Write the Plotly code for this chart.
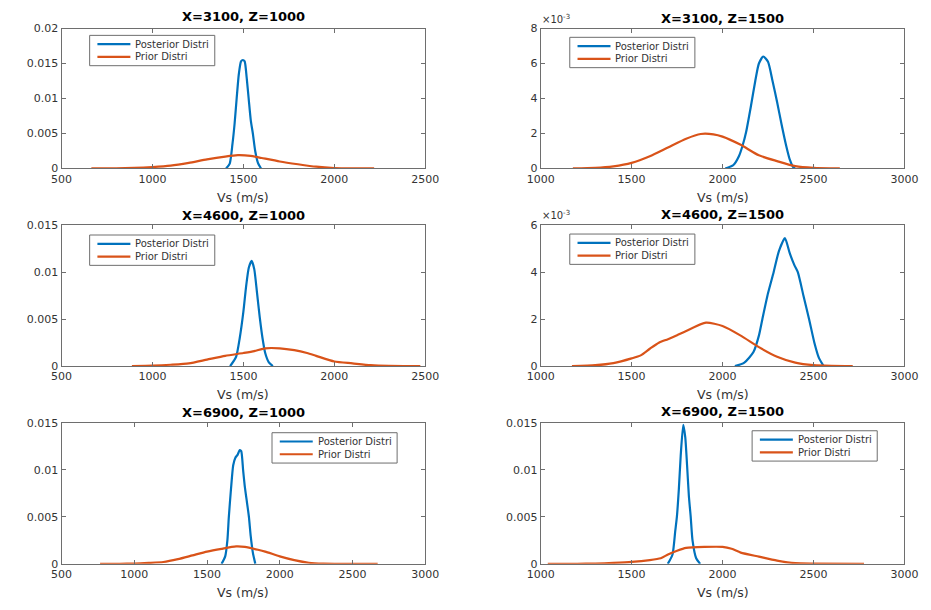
import plotly.graph_objects as go

W, H = 931, 610

# ---------------- data ----------------
titles = ["X=3100, Z=1000", "X=3100, Z=1500",
          "X=4600, Z=1000", "X=4600, Z=1500",
          "X=6900, Z=1000", "X=6900, Z=1500"]

# Panel 1
p1_post_x = [1405, 1425, 1440, 1452, 1463, 1475, 1487, 1497, 1507, 1518, 1529, 1541, 1552, 1565, 1580, 1597]
p1_post_y = [0, 0.0007, 0.0035, 0.0065, 0.010, 0.0135, 0.0153, 0.0155, 0.0153, 0.013, 0.010, 0.0068, 0.005, 0.0025, 0.0008, 0]
p1_prior_x = [664, 800, 900, 1000, 1100, 1200, 1300, 1400, 1470, 1540, 1600, 1700, 1800, 1900, 2000, 2100, 2219]
p1_prior_y = [0, 0.00002, 0.00008, 0.0002, 0.0004, 0.0008, 0.0013, 0.0017, 0.0019, 0.0018, 0.0015, 0.001, 0.0006, 0.00025, 0.00006, 0.00001, 0]

# Panel 2 (values in units of 1e-3)
p2_post_x = [2015, 2060, 2090, 2110, 2130, 2155, 2180, 2200, 2224, 2250, 2275, 2300, 2325, 2350, 2370, 2390, 2400]
p2_post_y = [0, 0.2, 0.7, 1.3, 2.1, 3.5, 5.0, 6.0, 6.4, 6.1, 5.0, 3.8, 2.5, 1.3, 0.5, 0.05, 0]
p2_prior_x = [1177, 1300, 1400, 1500, 1600, 1700, 1800, 1880, 1950, 2000, 2100, 2200, 2300, 2400, 2500, 2645]
p2_prior_y = [0, 0.03, 0.12, 0.32, 0.7, 1.2, 1.7, 1.97, 1.95, 1.82, 1.35, 0.75, 0.42, 0.13, 0.03, 0]

# Panel 3
p3_post_x = [1427, 1460, 1480, 1500, 1515, 1530, 1546, 1560, 1575, 1590, 1605, 1620, 1640, 1662]
p3_post_y = [0, 0.001, 0.003, 0.0058, 0.0085, 0.0105, 0.0112, 0.0103, 0.0078, 0.0052, 0.003, 0.0014, 0.0004, 0]
p3_prior_x = [887, 1000, 1100, 1200, 1300, 1400, 1500, 1560, 1620, 1700, 1780, 1850, 1900, 2000, 2100, 2200, 2300, 2473]
p3_prior_y = [0, 0.00005, 0.00015, 0.0003, 0.0007, 0.0011, 0.0014, 0.0016, 0.0019, 0.0019, 0.0017, 0.0014, 0.0011, 0.0005, 0.0003, 0.0001, 0.00002, 0]

# Panel 4 (values in units of 1e-3)
p4_post_x = [2068, 2120, 2170, 2200, 2219, 2250, 2281, 2310, 2343, 2370, 2395, 2414, 2445, 2476, 2505, 2530, 2556]
p4_post_y = [0, 0.15, 0.6, 1.3, 2.0, 3.1, 4.0, 4.9, 5.45, 4.8, 4.3, 4.0, 3.0, 2.0, 1.0, 0.35, 0]
p4_prior_x = [1172, 1300, 1400, 1500, 1550, 1600, 1650, 1700, 1750, 1800, 1909, 2000, 2100, 2200, 2300, 2400, 2500, 2600, 2716]
p4_prior_y = [0, 0.04, 0.13, 0.33, 0.46, 0.74, 1.0, 1.15, 1.32, 1.5, 1.85, 1.71, 1.3, 0.81, 0.4, 0.15, 0.04, 0.01, 0]

# Panel 5
p5_post_x = [1600, 1625, 1640, 1650, 1665, 1680, 1695, 1710, 1725, 1735, 1748, 1760, 1775, 1788, 1800, 1815, 1832]
p5_post_y = [0, 0.0008, 0.0025, 0.005, 0.008, 0.0105, 0.0113, 0.0116, 0.0121, 0.012, 0.010, 0.0082, 0.0065, 0.005, 0.003, 0.0012, 0]
p5_prior_x = [765, 900, 1000, 1100, 1200, 1300, 1400, 1500, 1600, 1700, 1760, 1850, 1900, 2000, 2100, 2200, 2300, 2673]
p5_prior_y = [0, 0.00001, 0.00003, 0.0001, 0.0002, 0.0005, 0.0009, 0.0013, 0.0016, 0.00185, 0.0018, 0.0015, 0.0013, 0.0008, 0.0004, 0.00012, 0.00003, 0]

# Panel 6
p6_post_x = [1699, 1725, 1740, 1749, 1760, 1770, 1784, 1795, 1805, 1815, 1825, 1835, 1855, 1877]
p6_post_y = [0, 0.001, 0.0035, 0.005, 0.008, 0.0115, 0.0148, 0.0135, 0.0105, 0.0072, 0.005, 0.0025, 0.0006, 0]
p6_prior_x = [1039, 1200, 1300, 1400, 1500, 1600, 1660, 1700, 1750, 1800, 1900, 2000, 2050, 2100, 2200, 2300, 2400, 2500, 2778]
p6_prior_y = [0, 0.00001, 0.00003, 0.0001, 0.0002, 0.0004, 0.0006, 0.001, 0.0014, 0.0017, 0.0018, 0.0018, 0.0016, 0.0012, 0.00077, 0.00035, 0.00007, 0.00002, 0]

post_x = [p1_post_x, p2_post_x, p3_post_x, p4_post_x, p5_post_x, p6_post_x]
post_y = [p1_post_y, [v * 1e-3 for v in p2_post_y], p3_post_y,
          [v * 1e-3 for v in p4_post_y], p5_post_y, p6_post_y]
prior_x = [p1_prior_x, p2_prior_x, p3_prior_x, p4_prior_x, p5_prior_x, p6_prior_x]
prior_y = [p1_prior_y, [v * 1e-3 for v in p2_prior_y], p3_prior_y,
           [v * 1e-3 for v in p4_prior_y], p5_prior_y, p6_prior_y]

x_ranges = [(500, 2500), (1000, 3000), (500, 2500), (1000, 3000), (500, 3000), (1000, 3000)]
x_ticks = [[500, 1000, 1500, 2000, 2500], [1000, 1500, 2000, 2500, 3000],
           [500, 1000, 1500, 2000, 2500], [1000, 1500, 2000, 2500, 3000],
           [500, 1000, 1500, 2000, 2500, 3000], [1000, 1500, 2000, 2500, 3000]]
y_ranges = [(0, 0.02), (0, 0.008), (0, 0.015), (0, 0.006), (0, 0.015), (0, 0.015)]
y_ticks = [[0, 0.005, 0.01, 0.015, 0.02], [0, 0.002, 0.004, 0.006, 0.008],
           [0, 0.005, 0.01, 0.015], [0, 0.002, 0.004, 0.006],
           [0, 0.005, 0.01, 0.015], [0, 0.005, 0.01, 0.015]]
y_ticktext = [["0", "0.005", "0.01", "0.015", "0.02"], ["0", "2", "4", "6", "8"],
              ["0", "0.005", "0.01", "0.015"], ["0", "2", "4", "6"],
              ["0", "0.005", "0.01", "0.015"], ["0", "0.005", "0.01", "0.015"]]
has_exponent = [False, True, False, True, False, False]
series_names = ["Posterior Distri", "Prior Distri"]

# ---------------- layout geometry (pixels) ----------------
col_px = [(49, 424), (543, 918)]
row_px = [(23, 166), (224, 368), (426, 570)]
legend_px = [(78, 30), (573, 32), (78, 234), (573, 233), (266, 436), (761, 434)]
LEG_W, LEG_H = 129, 31
title_y_px = [11, 12.5, 214, 213, 415, 414]
xlabel_y_px = [196, 397, 599]

BLUE = "#0072BD"
ORANGE = "#D95319"
COLORS = [BLUE, ORANGE]
AXC = "#6e6e6e"
TXT = "#333333"
FONT = "DejaVu Sans"


def px_x(p):
    return p / W


def px_y(p):
    return 1 - p / H


fig = go.Figure()
layout = dict(width=W, height=H, margin=dict(l=0, r=0, t=0, b=0),
              paper_bgcolor="white", plot_bgcolor="white",
              font=dict(family=FONT, color=TXT, size=11),
              showlegend=False, annotations=[], shapes=[])

for i in range(6):
    r, c = divmod(i, 2)
    n = i + 1
    xa = "x" if n == 1 else f"x{n}"
    ya = "y" if n == 1 else f"y{n}"
    fig.add_trace(go.Scatter(x=post_x[i], y=post_y[i], mode="lines", name=series_names[0],
                             line=dict(color=BLUE, width=2.2, shape="spline", smoothing=0.6),
                             xaxis=xa, yaxis=ya))
    fig.add_trace(go.Scatter(x=prior_x[i], y=prior_y[i], mode="lines", name=series_names[1],
                             line=dict(color=ORANGE, width=2.2, shape="spline", smoothing=0.6),
                             xaxis=xa, yaxis=ya))
    x0, x1 = col_px[c]
    y0, y1 = row_px[r]
    xkey = "xaxis" if n == 1 else f"xaxis{n}"
    ykey = "yaxis" if n == 1 else f"yaxis{n}"
    layout[xkey] = dict(domain=[px_x(x0), px_x(x1)], anchor=ya, range=list(x_ranges[i]),
                        tickvals=x_ticks[i], ticks="inside", ticklen=4, tickcolor=AXC,
                        showline=True, linecolor=AXC, linewidth=1, mirror="ticks",
                        showgrid=False, zeroline=False,
                        tickfont=dict(family=FONT, size=11, color=TXT))
    layout[ykey] = dict(domain=[px_y(y1), px_y(y0)], anchor=xa, range=list(y_ranges[i]),
                        tickvals=y_ticks[i], ticktext=y_ticktext[i], ticks="inside",
                        ticklen=4, tickcolor=AXC,
                        showline=True, linecolor=AXC, linewidth=1, mirror="ticks",
                        showgrid=False, zeroline=False,
                        tickfont=dict(family=FONT, size=11, color=TXT))

    # legend box (MATLAB style, compact)
    lx, ly = legend_px[i]
    layout["shapes"].append(dict(type="rect", xref="paper", yref="paper",
                                 x0=px_x(lx), x1=px_x(lx + LEG_W),
                                 y0=px_y(ly + LEG_H), y1=px_y(ly),
                                 line=dict(color=AXC, width=1), fillcolor="white",
                                 layer="above"))
    for k, nm in enumerate(series_names):
        yy = ly + 9 + 13 * k
        layout["shapes"].append(dict(type="line", xref="paper", yref="paper",
                                     x0=px_x(lx + 8), x1=px_x(lx + 42),
                                     y0=px_y(yy), y1=px_y(yy),
                                     line=dict(color=COLORS[k], width=2.2), layer="above"))
        layout["annotations"].append(dict(
            text=nm, x=px_x(lx + 45), y=px_y(yy), xref="paper", yref="paper",
            xanchor="left", yanchor="middle", showarrow=False,
            font=dict(family=FONT, size=10, color=TXT)))

    layout["annotations"].append(dict(
        text=f"<b>{titles[i]}</b>", x=px_x((x0 + x1) / 2), y=px_y(title_y_px[i]),
        xref="paper", yref="paper", xanchor="center", yanchor="middle",
        showarrow=False, font=dict(family=FONT, size=13, color="#000000")))
    layout["annotations"].append(dict(
        text="Vs (m/s)", x=px_x((x0 + x1) / 2), y=px_y(xlabel_y_px[r]),
        xref="paper", yref="paper", xanchor="center", yanchor="middle",
        showarrow=False, font=dict(family=FONT, size=12.5, color=TXT)))
    if has_exponent[i]:
        layout["annotations"].append(dict(
            text="×10<sup>-3</sup>", x=px_x(x0 - 1), y=px_y(y0 - 2),
            xref="paper", yref="paper", xanchor="left", yanchor="bottom",
            showarrow=False, font=dict(family=FONT, size=10, color=TXT)))

fig.update_layout(**layout)
fig.write_html("out.html")
